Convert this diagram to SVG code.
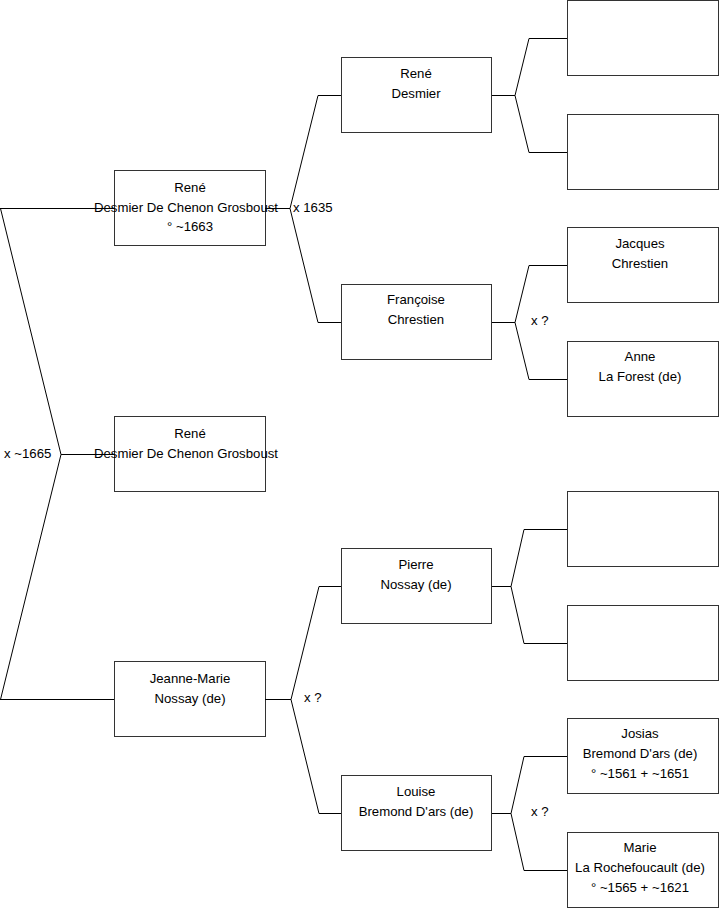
<svg xmlns="http://www.w3.org/2000/svg" width="719" height="908" viewBox="0 0 719 908">
<style>
.box{fill:#fff;stroke:#333;stroke-width:1}
.c{fill:none;stroke:#000;stroke-width:1}
text{font-family:"Liberation Sans",Arial,sans-serif;font-size:13.2px;fill:#000}
.t{text-anchor:middle}
</style>
<rect width="719" height="908" fill="#fff"/>
<g id="nodes">
<g id="n-rene-center"><rect class="box" x="114.5" y="416.5" width="151" height="75"/><text class="t" x="190" y="438">René</text><text class="t" x="186" y="458">Desmier De Chenon Grosboust</text></g>
<g id="n-rene-top"><rect class="box" x="114.5" y="170.5" width="151" height="75"/><text class="t" x="190" y="192">René</text><text class="t" x="186" y="212">Desmier De Chenon Grosboust</text><text class="t" x="190" y="231">° ~1663</text></g>
<g id="n-jeanne"><rect class="box" x="114.5" y="661.5" width="151" height="75"/><text class="t" x="190" y="683">Jeanne-Marie</text><text class="t" x="190" y="703">Nossay (de)</text></g>
<g id="n-rene-desmier"><rect class="box" x="341.5" y="57.5" width="150" height="75"/><text class="t" x="416" y="78">René</text><text class="t" x="416" y="98">Desmier</text></g>
<g id="n-francoise"><rect class="box" x="341.5" y="284.5" width="150" height="75"/><text class="t" x="416" y="304">Françoise</text><text class="t" x="416" y="324">Chrestien</text></g>
<g id="n-pierre"><rect class="box" x="341.5" y="548.5" width="150" height="75"/><text class="t" x="416" y="569">Pierre</text><text class="t" x="416" y="589">Nossay (de)</text></g>
<g id="n-louise"><rect class="box" x="341.5" y="775.5" width="150" height="75"/><text class="t" x="416" y="796">Louise</text><text class="t" x="416" y="816">Bremond D'ars (de)</text></g>
<g id="n-e1"><rect class="box" x="567.5" y="0.5" width="151" height="75"/></g>
<g id="n-e2"><rect class="box" x="567.5" y="114.5" width="151" height="75"/></g>
<g id="n-jacques"><rect class="box" x="567.5" y="227.5" width="151" height="75"/><text class="t" x="640" y="248">Jacques</text><text class="t" x="640" y="268">Chrestien</text></g>
<g id="n-anne"><rect class="box" x="567.5" y="341.5" width="151" height="75"/><text class="t" x="640" y="361">Anne</text><text class="t" x="640" y="381">La Forest (de)</text></g>
<g id="n-e3"><rect class="box" x="567.5" y="491.5" width="151" height="75"/></g>
<g id="n-e4"><rect class="box" x="567.5" y="605.5" width="151" height="75"/></g>
<g id="n-josias"><rect class="box" x="567.5" y="718.5" width="151" height="75"/><text class="t" x="640" y="738">Josias</text><text class="t" x="640" y="758">Bremond D'ars (de)</text><text class="t" x="640" y="778">° ~1561 + ~1651</text></g>
<g id="n-marie"><rect class="box" x="567.5" y="832.5" width="151" height="75"/><text class="t" x="640" y="852">Marie</text><text class="t" x="640" y="872">La Rochefoucault (de)</text><text class="t" x="640" y="892">° ~1565 + ~1621</text></g>
</g>
<g id="connectors">
<path class="c" d="M0 208.5H114M0 699.5H114M0.5 208.5L61 454.5L0.5 699.5M61 454.5H114"/>
<path class="c" d="M265 208.5H290M318 95.5L290 208.5L318 322.5M318 95.5H341M318 322.5H341"/>
<path class="c" d="M265 699.5H291M319 586.5L291 699.5L319 813.5M319 586.5H341M319 813.5H341"/>
<path class="c" d="M492 95.5H515M529 38.5L515 95.5L529 152.5M529 38.5H567M529 152.5H567"/>
<path class="c" d="M492 322.5H515M529 265.5L515 322.5L529 379.5M529 265.5H567M529 379.5H567"/>
<path class="c" d="M492 586.5H511M524 529.5L511 586.5L524 643.5M524 529.5H567M524 643.5H567"/>
<path class="c" d="M492 813.5H511M524 756.5L511 813.5L524 870.5M524 756.5H567M524 870.5H567"/>
<text x="4" y="458">x ~1665</text>
<text x="293" y="212">x 1635</text>
<text x="304" y="702">x ?</text>
<text x="531" y="325">x ?</text>
<text x="531" y="816">x ?</text>
</g>
</svg>
